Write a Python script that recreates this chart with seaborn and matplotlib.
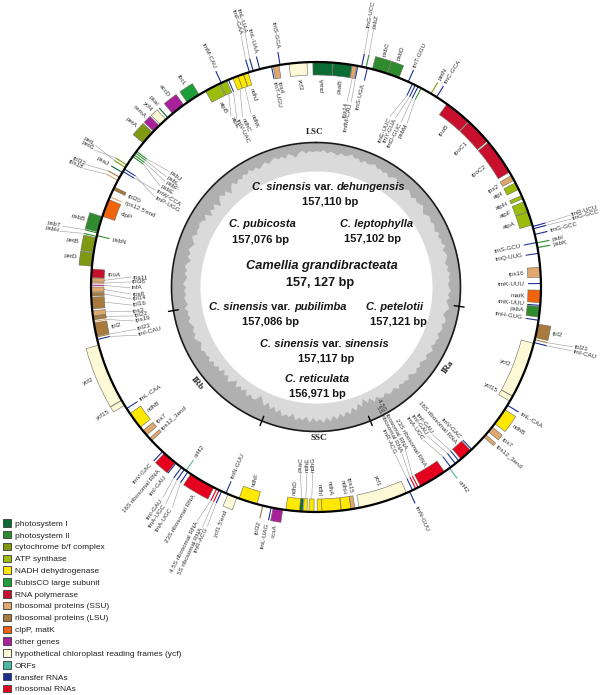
import numpy as np
import matplotlib
matplotlib.use("Agg")
import matplotlib.pyplot as plt
from matplotlib.patches import Patch
import seaborn as sns

# gene tracks: (name, start on map in degrees clockwise from top, end, strand side)
photosystem_I = [("psaA", -0.8, 4.3, "i"), ("psaB", 4.4, 9.2, "i"), ("psaC", 183.4, 184.2, "i"),
                 ("psaI", 318.6, 319.0, "o"), ("psaJ", 300.4, 300.8, "o")]
photosystem_II = [("psbA", 95, 97.7, "i"), ("psbB", 284.2, 288.2, "o"), ("psbC", 14.5, 18.4, "o"),
                  ("psbD", 18.5, 21.6, "o"), ("psbE", 305.2, 305.7, "i"), ("psbF", 305.8, 306.2, "i"),
                  ("psbH", 282.8, 283.2, "o"), ("psbI", 78.5, 78.9, "o"), ("psbJ", 306.9, 307.3, "i"),
                  ("psbK", 79.6, 80.2, "o"), ("psbL", 306.4, 306.8, "i"), ("psbM", 27.7, 28.1, "i"),
                  ("psbN", 283.0, 283.4, "i"), ("psbT", 283.7, 284.1, "o"), ("psbZ", 12.6, 13.1, "o")]
cytochrome = [("petA", 309.8, 313.4, "o"), ("petB", 278.9, 282.6, "o"), ("petD", 275.3, 278.7, "o"),
              ("petG", 302.6, 303.0, "o"), ("petL", 301.9, 302.3, "o"), ("petN", 30.5, 31.0, "o")]
atp_synthase = [("atpA", 70.5, 74, "i"), ("atpB", 330.6, 334.6, "i"), ("atpE", 334.8, 336.6, "i"),
                ("atpF", 67.7, 70.4, "i"), ("atpH", 66, 66.9, "i"), ("atpI", 62.4, 64.3, "i")]
nadh = [("ndhA", 173.6, 178.5, "i"), ("ndhB", 123, 127.4, "o"), ("ndhB", 231.4, 235.8, "i"),
        ("ndhC", 338.3, 339.7, "i"), ("ndhD", 184.2, 187.7, "i"), ("ndhE", 182.3, 183.2, "i"),
        ("ndhF", 195.2, 200, "i"), ("ndhG", 180.5, 181.8, "i"), ("ndhH", 171, 173.5, "i"),
        ("ndhI", 178.5, 179.7, "i"), ("ndhJ", 341.2, 342.4, "i"), ("ndhK", 339.7, 341.1, "i")]
rubisco = [("rbcL", 325.1, 328.7, "o")]
rna_polymerase = [("rpoA", 272.4, 274.6, "i"), ("rpoB", 35.6, 42.6, "i"),
                  ("rpoC1", 42.8, 49.6, "i"), ("rpoC2", 50, 59.3, "i")]
ribosomal_ssu = [("rps2", 60.3, 61.7, "i"), ("rps3", 262.6, 263.9, "i"), ("rps4", 349, 350.5, "i"),
                 ("rps7", 128.5, 130, "o"), ("rps7", 228.8, 230.3, "i"), ("rps8", 268.7, 270, "i"),
                 ("rps11", 271.3, 272.3, "i"), ("rps12_3end", 131, 131.8, "o"),
                 ("rps12_3end", 226.9, 227.7, "i"), ("rps12 5'end", 293.4, 293.9, "i"),
                 ("rps14", 9.3, 10.4, "i"), ("rps15", 170, 171, "i"), ("rps16", 84.9, 87.5, "i"),
                 ("rps18", 298, 298.6, "o"), ("rps19", 260.9, 261.5, "i")]
ribosomal_lsu = [("rpl2", 99.5, 103, "o"), ("rpl2", 257.4, 260.8, "i"), ("rpl14", 267.7, 268.5, "i"),
                 ("rpl16", 264.4, 267.4, "i"), ("rpl20", 295.6, 296.4, "i"), ("rpl22", 261.6, 262.5, "i"),
                 ("rpl23", 103.3, 103.8, "o"), ("rpl23", 257, 257.3, "i"), ("rpl32", 193.4, 193.9, "o"),
                 ("rpl33", 298.9, 299.5, "o"), ("rpl36", 270.9, 271.2, "i")]
clp_mat = [("clpP", 288.3, 292.9, "i"), ("matK", 90.8, 94, "i")]
other_genes = [("accD", 320.4, 324, "o"), ("ccsA", 188.5, 191, "o"), ("cemA", 313.8, 315.8, "o"),
               ("infA", 270.2, 270.7, "i")]
ycf_frames = [("ycf1", 156.3, 168.9, "i"), ("ycf1 5'end", 200.6, 203, "o"), ("ycf2", 104.5, 119, "i"),
              ("ycf2", 239.8, 255, "o"), ("ycf3", 353.1, 357.7, "i"), ("ycf4", 316.2, 318.1, "o"),
              ("ycf15", 119.1, 120.5, "i"), ("ycf15", 238.3, 239.7, "o")]
orfs = [("orf42", 143.4, 143.8, "o"), ("orf42", 215.1, 215.5, "i")]
transfer_rnas = [("trnfM-CAU", 10.5, 10.9, "i"), ("trnG-UCC", 11.5, 11.9, "o"), ("trnS-UGA", 13.0, 13.4, "i"),
                 ("trnT-GGU", 24, 24.4, "o"), ("trnE-UUC", 25.2, 25.6, "i"), ("trnY-GUA", 26, 26.4, "i"),
                 ("trnD-GUC", 26.8, 27.2, "i"), ("trnC-GCA", 32.2, 32.6, "o"), ("trnR-UCU", 74.2, 74.6, "o"),
                 ("trnG-GCC", 74.8, 75.2, "o"), ("trnG-GCC", 76.3, 76.7, "o"), ("trnS-GCU", 78.4, 78.8, "i"),
                 ("trnQ-UUG", 81.2, 81.6, "i"), ("trnK-UUU", 88.9, 89.3, "i"), ("trnK-UUU", 94.5, 94.9, "i"),
                 ("trnH-GUG", 98.3, 98.7, "i"), ("trnI-CAU", 104.1, 104.5, "o"), ("trnL-CAA", 121.5, 121.9, "o"),
                 ("trnV-GAC", 136.0, 136.4, "i"), ("trnI-GAU", 140.4, 140.8, "i"), ("trnI-GAU", 141.5, 141.9, "i"),
                 ("trnA-UGC", 143.0, 143.4, "i"), ("trnR-ACG", 154.4, 154.8, "i"), ("trnN-GUU", 155.2, 155.6, "o"),
                 ("trnL-UAG", 191.3, 191.7, "o"), ("trnN-GUU", 203.4, 203.8, "i"), ("trnR-ACG", 204.6, 205.0, "o"),
                 ("trnA-UGC", 214.5, 214.9, "o"), ("trnA-UGC", 215.6, 216.0, "o"), ("trnI-GAU", 216.5, 216.9, "o"),
                 ("trnI-GAU", 218.3, 218.7, "o"), ("trnV-GAC", 222.8, 223.2, "o"), ("trnL-CAA", 237.1, 237.5, "i"),
                 ("trnI-CAU", 256.3, 256.7, "i"), ("trnW-CCA", 300.7, 301.1, "i"), ("trnP-UGG", 301.4, 301.8, "i"),
                 ("trnM-CAU", 334.9, 335.3, "o"), ("trnV-UAC", 336.9, 337.3, "i"), ("trnF-GAA", 342.6, 343.0, "o"),
                 ("trnL-UAA", 343.6, 344.0, "o"), ("trnL-UAA", 345.3, 345.7, "o"), ("trnT-UGU", 348.4, 348.8, "i"),
                 ("trnS-GGA", 350.6, 351.0, "o")]
ribosomal_rnas = [("16S ribosomal RNA", 136.6, 139.9, "i"), ("23S ribosomal RNA", 145.2, 152.3, "i"),
                  ("4.5S ribosomal RNA", 152.8, 153.2, "i"), ("5S ribosomal RNA", 153.5, 153.9, "i"),
                  ("5S ribosomal RNA", 205.3, 205.7, "o"), ("4.5S ribosomal RNA", 206, 206.4, "o"),
                  ("23S ribosomal RNA", 207, 213.8, "o"), ("16S ribosomal RNA", 218.7, 222.4, "o")]

legend_labels = ["photosystem I", "photosystem II", "cytochrome b/f complex", "ATP synthase",
                 "NADH dehydrogenase", "RubisCO large subunit", "RNA polymerase",
                 "ribosomal proteins (SSU)", "ribosomal proteins (LSU)", "clpP, matK", "other genes",
                 "hypothetical chloroplast reading frames (ycf)", "ORFs", "transfer RNAs", "ribosomal RNAs"]
tracks = [photosystem_I, photosystem_II, cytochrome, atp_synthase, nadh, rubisco, rna_polymerase,
          ribosomal_ssu, ribosomal_lsu, clp_mat, other_genes, ycf_frames, orfs, transfer_rnas, ribosomal_rnas]

# depth of the dark GC trace below the inner circle, read every 1.5 degrees
gc_depth = [8, 9, 7, 10, 8, 9, 11, 8, 10, 9, 7, 10, 9, 12, 9, 11, 10, 8, 11, 10,
            12, 10, 13, 11, 9, 12, 14, 11, 13, 10, 12, 14, 11, 13, 12, 10, 13, 15, 12, 11,
            13, 11, 12, 14, 10, 13, 11, 12, 9, 13, 11, 10, 12, 14, 11, 13, 10, 12, 11, 13,
            12, 10, 13, 11, 14, 12, 10, 13, 15, 12, 11, 14, 12, 13, 15, 12, 14, 13, 16, 12,
            14, 16, 13, 15, 17, 14, 16, 13, 15, 18, 14, 16, 15, 17, 14, 18, 16, 15, 19, 16,
            17, 20, 16, 22, 18, 24, 17, 21, 15, 19, 13, 17, 12, 16, 11, 15, 10, 14, 9, 13,
            10, 14, 9, 15, 11, 13, 10, 16, 12, 14, 11, 17, 13, 18, 14, 20, 15, 19, 23, 17,
            16, 19, 15, 21, 17, 20, 16, 22, 18, 15, 20, 17, 21, 16, 19, 15, 18, 14, 17, 15,
            16, 13, 15, 17, 14, 12, 15, 13, 16, 14, 12, 15, 13, 14, 11, 15, 13, 12, 14, 12,
            14, 11, 13, 15, 12, 14, 11, 13, 16, 12, 14, 11, 13, 15, 12, 10, 14, 12, 13, 11,
            12, 15, 11, 18, 13, 16, 12, 19, 14, 11, 15, 12, 18, 13, 10, 14, 11, 13, 10, 12,
            9, 12, 10, 13, 11, 9, 12, 10, 8, 11, 9, 12, 8, 10, 13, 9, 7, 10, 8, 9]
ir_boundaries = [97.7, 157.9, 202, 260.6]

# centre captions: (x, y, size, [(text, italic), ...])
caption_parts = [
    (329, 187, 8.0, [("C. sinensis", True), (" var. ", False), ("dehungensis", True)]),
    (330, 202, 8.0, [("157,110 bp", False)]),
    (262, 224, 8.0, [("C. pubicosta", True)]),
    (261, 240, 8.0, [("157,076 bp", False)]),
    (377, 224, 8.0, [("C. leptophylla", True)]),
    (372, 239, 8.0, [("157,102 bp", False)]),
    (322, 266, 9.2, [("Camellia grandibracteata", True)]),
    (320, 283, 9.2, [("157, 127 bp", False)]),
    (278, 307, 8.0, [("C. sinensis", True), (" var. ", False), ("pubilimba", True)]),
    (271, 322, 8.0, [("157,086 bp", False)]),
    (395, 307, 8.0, [("C. petelotii", True)]),
    (398, 322, 8.0, [("157,121 bp", False)]),
    (325, 344, 8.0, [("C. sinensis", True), (" var. ", False), ("sinensis", True)]),
    (326, 359, 8.0, [("157,117 bp", False)]),
    (317, 379, 8.0, [("C. reticulata", True)]),
    (317, 394, 8.0, [("156,971 bp", False)]),
]
region_labels = [("LSC", 315, 132, 0), ("SSC", 319, 438, 0), ("IRa", 448, 367, 55), ("IRb", 197, 383, -50)]

# labels pulled away from their gene with a leader line: (name, gene start) -> (angle, radius)
lead_labels = {
    ("rps14", 9.3): (9.5, 187), ("trnfM-CAU", 10.5): (10.8, 187), ("trnG-UCC", 11.5): (11.5, 265),
    ("psbZ", 12.6): (12.6, 265), ("trnE-UUC", 25.2): (23.5, 185), ("trnY-GUA", 26): (25.2, 186),
    ("trnD-GUC", 26.8): (27.3, 185), ("psbM", 27.7): (29.1, 186),
    ("atpE", 334.8): (333.6, 190), ("trnV-UAC", 336.9): (334.8, 185), ("ndhC", 338.3): (336.6, 184),
    ("ndhK", 339.7): (339.5, 184), ("trnF-GAA", 342.6): (343.4, 263), ("trnL-UAA", 343.6): (344.4, 264),
    ("petL", 301.9): (302.7, 263), ("petG", 302.6): (301.7, 262), ("rpl33", 298.9): (298, 262),
    ("rps18", 298): (297, 262), ("psbJ", 306.9): (308.2, 186), ("psbL", 306.4): (306.4, 185),
    ("psbF", 305.8): (305, 183), ("psbE", 305.2): (303, 185), ("trnW-CCA", 300.7): (301.1, 186),
    ("trnP-UGG", 301.4): (299.2, 184), ("psbT", 283.7): (283.5, 262), ("psbH", 282.8): (282.3, 263),
    ("rps11", 271.3): (273.1, 184), ("rpl36", 270.9): (271.6, 184), ("infA", 270.2): (269.7, 184),
    ("rps8", 268.7): (267.8, 184), ("rpl14", 267.7): (266.3, 184), ("rpl16", 264.4): (264.4, 184),
    ("rps3", 262.6): (262.5, 185), ("rpl22", 261.6): (261, 184), ("rps19", 260.9): (259.4, 184),
    ("rpl23", 257): (256.8, 184), ("trnI-CAU", 256.3): (254.9, 184),
    ("trnI-GAU", 216.5): (216, 262), ("trnA-UGC", 215.6): (214.7, 265), ("trnA-UGC", 214.5): (213.1, 264),
    ("4.5S ribosomal RNA", 206): (206.9, 263), ("5S ribosomal RNA", 205.3): (205.3, 267),
    ("trnR-ACG", 204.6): (204.4, 264), ("psaC", 183.4): (184.9, 185), ("ndhE", 182.3): (182.8, 185),
    ("ndhG", 180.5): (181, 185), ("trnI-GAU", 140.4): (141.7, 187), ("trnI-GAU", 141.5): (143.2, 185),
    ("trnA-UGC", 143.0): (144.9, 186), ("4.5S ribosomal RNA", 152.8): (151.2, 185),
    ("5S ribosomal RNA", 153.5): (152.7, 186), ("trnR-ACG", 154.4): (154.7, 185),
    ("trnR-UCU", 74.2): (74.2, 265), ("trnG-GCC", 74.8): (75.1, 265),
    ("rpl23", 103.3): (103.1, 265), ("trnI-CAU", 104.1): (104, 265),
}

sns.set_theme(style="white")
plt.rcParams["font.family"] = ["Liberation Sans", "DejaVu Sans"]
palette = sns.color_palette(["#0a6b35", "#2e8b2e", "#7f9a12", "#9cbc0c", "#ffe800", "#1c9e3a", "#c8102e",
                             "#e0a86e", "#a87a3e", "#f0640e", "#a8209a", "#fdf8d5", "#4bb8a0", "#1c2f90", "#e6001f"])

W, H = 600, 695
CX, CY, RMAX = 316, 287, 330
RING, GC_OUT, GC_IN, BOX = 225, 144.5, 116, 13
fig = plt.figure(figsize=(W / 100, H / 100), dpi=100, facecolor="white")
ax = fig.add_axes([(CX - RMAX) / W, (H - CY - RMAX) / H, 2 * RMAX / W, 2 * RMAX / H], projection="polar")
ax.set_theta_zero_location("N")
ax.set_theta_direction(-1)
ax.set_axis_off()
ax.set_autoscale_on(False)
ax.set_rlim(0, RMAX)

# GC content ring
circle = np.radians(np.linspace(0, 360, 721))
ax.fill_between(circle, GC_IN, GC_OUT, color="#dadada", lw=0, zorder=1)
gc_theta = np.radians(np.arange(len(gc_depth) + 1) * 1.5)
gc_vals = GC_OUT - np.array(gc_depth + gc_depth[:1], dtype=float)
ax.fill_between(gc_theta, gc_vals, GC_OUT, color="#b0b0b0", lw=0, zorder=2)
ax.plot(circle, np.full_like(circle, GC_OUT), color="#1a1a1a", lw=1.2, zorder=3)
ax.plot(circle, np.full_like(circle, RING), color="black", lw=1.6, zorder=6)
for b in ir_boundaries:
    ax.plot(np.radians([b, b]), [GC_OUT - 5, GC_OUT + 5], color="black", lw=1.0, zorder=4)

# genes
for track, colour in zip(tracks, palette):
    for name, start, end, side in track:
        sign = 1 if side == "o" else -1
        width = end - start
        mid = (start + end) / 2
        thin = width < 0.7
        ax.bar(np.radians(mid), sign * BOX, width=np.radians(0.28 if thin else width), bottom=RING, color=colour,
               edgecolor="none" if thin else "#6b6b5a", linewidth=0 if thin else 0.4, zorder=5)
        tip = RING + sign * BOX
        key = (name, start)
        if key in lead_labels:
            lab_t, lab_r = lead_labels[key]
            ax.plot(np.radians([mid, lab_t]), [tip, lab_r - sign * 1], color="#9a9a9a", lw=0.4, zorder=4)
        else:
            lab_t, lab_r = mid, tip + sign * 3
        tt = lab_t % 360
        outward = side == "o"
        if tt < 180:
            rot, ha = 90 - tt, "left" if outward else "right"
        else:
            rot, ha = 270 - tt, "right" if outward else "left"
        ax.text(np.radians(lab_t), lab_r, name, fontsize=4.5, color="#333333", rotation=rot, ha=ha,
                va="center", rotation_mode="anchor", zorder=7)

# centre captions
renderer = fig.canvas.get_renderer()
for x, y, size, parts in caption_parts:
    pieces = [fig.text(0, 1 - y / H, t, fontsize=size, fontweight="bold", va="center", color="#161616",
                       style="italic" if it else "normal") for t, it in parts]
    widths = [p.get_window_extent(renderer).width for p in pieces]
    left = x - sum(widths) / 2
    for p, w in zip(pieces, widths):
        p.set_x(left / W)
        left += w

for text, x, y, rot in region_labels:
    fig.text(x / W, 1 - y / H, text, fontsize=6.5, fontweight="bold", family="Liberation Serif",
             ha="center", va="center", rotation=rot, color="#222222")

handles = [Patch(facecolor=c, edgecolor="#3a3a3a", linewidth=0.6) for c in palette]
fig.legend(handles, legend_labels, loc="lower left", bbox_to_anchor=(1 / W, 0), frameon=False,
           fontsize=6.0, labelcolor="#222222", handlelength=1.0, handleheight=1.0, handletextpad=0.45,
           labelspacing=0.39, borderpad=0.2, borderaxespad=0)

fig.savefig("out.png", dpi=100, facecolor="white")
